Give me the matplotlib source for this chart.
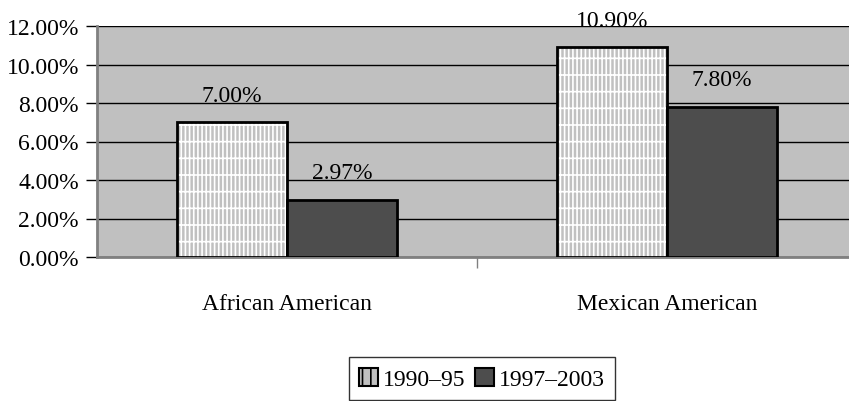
import matplotlib.pyplot as plt
from matplotlib.patches import Patch
import numpy as np

categories = ['African American', 'Mexican American']
series_names = ['1990–95', '1997–2003']
vals_9095 = [7.00, 10.90]
vals_9703 = [2.97, 7.80]
yticks = [0, 2, 4, 6, 8, 10, 12]

plt.rcParams['font.family'] = ['Liberation Serif', 'DejaVu Serif']
plt.rcParams['font.size'] = 17
plt.rcParams['hatch.linewidth'] = 1.2

fig = plt.figure(figsize=(8.49, 4.02), dpi=100)
ax = fig.add_axes([97 / 849, 1 - 258 / 402, 760 / 849, 231 / 402])
ax.set_facecolor('#C0C0C0')

x = np.arange(len(categories))
w = 0.29

# hatched bars: white vertical stripes on gray, then a black outline
ax.bar(x - w / 2, vals_9095, w, color='#C0C0C0', edgecolor='white', hatch='||||-', linewidth=0, zorder=3)
ax.bar(x - w / 2, vals_9095, w, fill=False, edgecolor='black', linewidth=2, zorder=4)
ax.bar(x + w / 2, vals_9703, w, color='#4D4D4D', edgecolor='black', linewidth=2, zorder=4)

for xi, v in zip(x - w / 2, vals_9095):
    ax.text(xi, v + 0.85, f'{v:.2f}%', ha='center', va='bottom', zorder=5)
for xi, v in zip(x + w / 2, vals_9703):
    ax.text(xi, v + 0.85, f'{v:.2f}%', ha='center', va='bottom', zorder=5)

ax.set_ylim(0, 12)
ax.set_xlim(-0.5, 1.5)
ax.set_yticks(yticks)
ax.set_yticklabels([f'{t:.2f}%' for t in yticks])
ax.yaxis.grid(True, color='black', linewidth=1)
ax.set_axisbelow(True)
ax.tick_params(axis='y', length=8, width=1, direction='out', pad=5)

ax.set_xticks(x)
ax.set_xticklabels(categories)
ax.tick_params(axis='x', which='major', length=0, pad=26)
ax.set_xticks([0.5], minor=True)
ax.tick_params(axis='x', which='minor', length=8, width=1, color='#808080')

for s in ['top', 'right']:
    ax.spines[s].set_visible(False)
ax.spines['left'].set_color('#808080')
ax.spines['left'].set_linewidth(2)
ax.spines['bottom'].set_color('#808080')
ax.spines['bottom'].set_linewidth(2)

handles = [Patch(facecolor='#C0C0C0', edgecolor='black', hatch='||', linewidth=1.5),
           Patch(facecolor='#4D4D4D', edgecolor='black', linewidth=1.5)]
leg = fig.legend(handles, series_names, loc='upper center', bbox_to_anchor=(482 / 849, 1 - 358 / 402),
                 ncol=2, frameon=True, fancybox=False, handlelength=0.8, handleheight=0.8,
                 handletextpad=0.2, columnspacing=0.4, borderpad=0.45, borderaxespad=0,
                 edgecolor='black')
leg.get_frame().set_linewidth(1)

fig.savefig('out.png', dpi=100)
